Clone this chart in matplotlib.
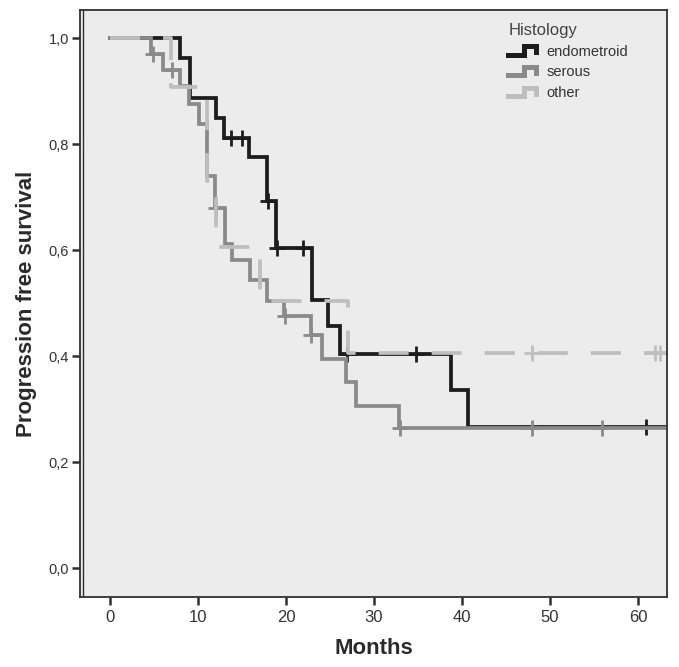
import numpy as np
import matplotlib
matplotlib.use("Agg")
import matplotlib.pyplot as plt
from matplotlib.lines import Line2D
from matplotlib.legend_handler import HandlerBase
from matplotlib.ticker import FuncFormatter

plt.rcParams["font.family"] = ["Liberation Sans", "DejaVu Sans"]
plt.rcParams["lines.scale_dashes"] = False

# Kaplan-Meier steps (months, survival)
endo_t = [0, 8.0, 9.1, 12.1, 12.9, 15.8, 17.8, 18.9, 23.0, 24.8, 26.1, 38.8, 40.7]
endo_s = [1.0, 0.962, 0.887, 0.849, 0.811, 0.775, 0.692, 0.604, 0.506, 0.456, 0.404, 0.336, 0.267]
endo_cens = [13.8, 15.0, 18.0, 19.0, 21.9, 26.9, 34.8, 60.9]

serous_t = [0, 4.7, 6.0, 8.0, 9.0, 10.1, 11.0, 11.9, 13.1, 13.9, 15.9, 17.8,
            19.8, 22.8, 24.1, 26.8, 27.95, 32.9]
serous_s = [1.0, 0.970, 0.940, 0.909, 0.876, 0.838, 0.740, 0.679, 0.611, 0.581, 0.543, 0.504,
            0.475, 0.440, 0.394, 0.351, 0.305, 0.264]
serous_cens = [4.9, 7.0, 12.0, 19.9, 22.9, 33.0, 48.0, 55.9]

other_t = [0, 6.9, 11.0, 12.0, 17.0, 27.0]
other_s = [1.0, 0.907, 0.730, 0.605, 0.504, 0.405]
other_cens = [48.0, 61.9, 62.5]

t_end = 64.0
labels = ["endometroid", "serous", "other"]
colors = ["#1c1c1c", "#8a8a8a", "#bebebe"]


def surv_at(t, s, x):
    idx = np.searchsorted(np.asarray(t), np.asarray(x), side="right") - 1
    return np.asarray(s)[idx]


class StepHandler(HandlerBase):
    def create_artists(self, legend, orig_handle, xdescent, ydescent,
                       width, height, fontsize, trans):
        xs = np.array([0.0, 0.55, 0.55, 0.95, 0.95]) * width - xdescent
        ys = np.array([0.15, 0.15, 0.85, 0.85, 0.35]) * height - ydescent
        ln = Line2D(xs, ys, color=orig_handle.get_color(), lw=3.6,
                    solid_joinstyle="miter", transform=trans)
        return [ln]


fig = plt.figure(figsize=(6.79, 6.67), dpi=100)
ax = fig.add_axes([0.1178, 0.1049, 0.8645, 0.880])
ax.set_facecolor("#ececec")

groups = [
    (endo_t, endo_s, endo_cens, "-"),
    (serous_t, serous_s, serous_cens, "-"),
    (other_t, other_s, other_cens, (0, (21.6, 16.6))),
]
handles = []
for (t, s, cens, ls), lab, col in zip(groups, labels, colors):
    tt = list(t) + [t_end]
    ss = list(s) + [s[-1]]
    h, = ax.step(tt, ss, where="post", color=col, lw=2.7, ls=ls, label=lab,
                 solid_joinstyle="miter", dash_capstyle="butt")
    ax.plot(cens, surv_at(t, s, cens), ls="none", marker="+", ms=11,
            mew=2.0, color=col)
    handles.append(h)

ax.set_xlim(-3.41, 63.3)
ax.set_ylim(-0.0547, 1.0528)
ax.set_xticks(np.arange(0, 61, 10))
ax.set_yticks(np.arange(0, 1.01, 0.2))
ax.yaxis.set_major_formatter(FuncFormatter(lambda v, p: f"{v:.1f}".replace(".", ",")))

for sp in ax.spines.values():
    sp.set_color("#303030")
    sp.set_linewidth(1.3)
ax.add_line(Line2D([0.0045, 0.0045], [0, 1], transform=ax.transAxes,
                   color="#303030", lw=1.0))

ax.tick_params(axis="both", direction="out", length=6, width=1.8,
               color="#303030", labelcolor="#333333")
ax.tick_params(axis="x", labelsize=12, pad=3)
ax.tick_params(axis="y", labelsize=10.5, pad=2)
for lbl in ax.get_xticklabels():
    lbl.set_family(["Liberation Sans Narrow", "Liberation Sans"])

ax.set_xlabel("Months", fontsize=16, fontweight="bold", color="#2a2a2a", labelpad=10)
ax.set_ylabel("Progression free survival", fontsize=16, fontweight="bold",
              color="#2a2a2a", labelpad=8)

leg = ax.legend(handles=handles, labels=labels, title="Histology",
                loc="upper left", bbox_to_anchor=(0.71, 0.998), frameon=False,
                handler_map={Line2D: StepHandler()}, fontsize=10.5,
                title_fontsize=12, handlelength=2.0, handleheight=0.9,
                handletextpad=0.6, labelspacing=0.45, borderpad=0.3,
                alignment="left", labelcolor="#333333")
leg.get_title().set_color("#444444")

fig.savefig("out.png", dpi=100)
